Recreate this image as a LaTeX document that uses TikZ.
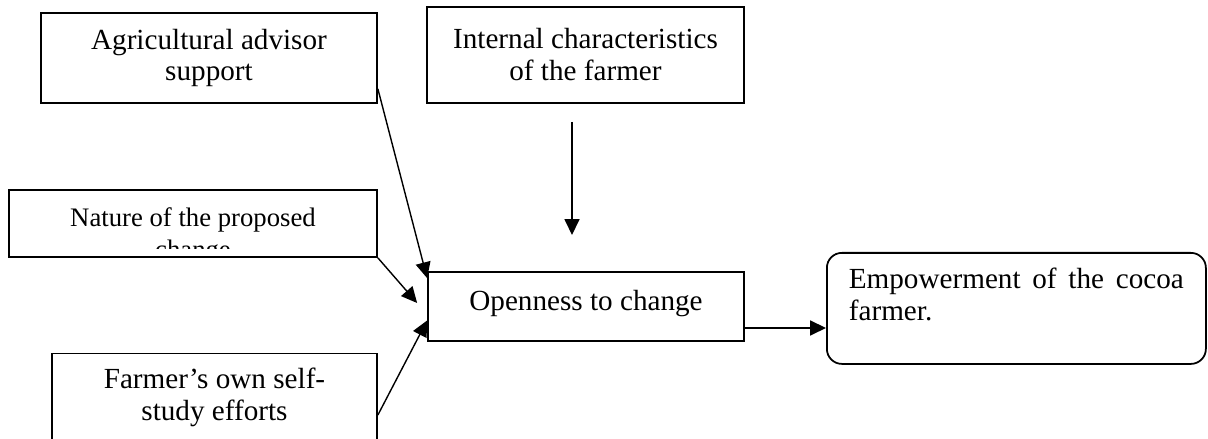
\documentclass[tikz,border=0pt]{standalone}
\usepackage{fontspec}
\setmainfont{Liberation Serif}
\usetikzlibrary{arrows.meta}
\tikzset{
  box/.style={rectangle, draw=black, line width=1pt, align=center, inner sep=2pt,
              font=\fontsize{16.6}{18.2}\selectfont},
  endbox/.style={box, rounded corners=0.3cm, align=justify, text width=6.7cm},
  fl/.style={-{Triangle[length=9pt,width=8.5pt]}, draw=black, line width=0.8pt},
}
\begin{document}
\begin{tikzpicture}
\useasboundingbox (0,0) rectangle (24.16,8.78);

\node[box, minimum width=6.72cm, minimum height=1.8cm] (advisor) at (4.18,7.62) {Agricultural advisor\\support};
\node[box, minimum width=6.34cm, minimum height=1.92cm] (internal) at (11.71,7.68) {Internal characteristics\\of the farmer};
\node[box, minimum width=7.36cm, minimum height=1.34cm] (nature) at (3.86,4.31) {};
\node[box, minimum width=6.32cm, minimum height=1.38cm, text depth=0.25cm] (openness) at (11.72,2.65) {Openness to change};
\node[endbox, minimum width=7.58cm, text height=0.65cm, text depth=1.43cm, anchor=north west] (empower) at (16.52,3.74) {Empowerment of the cocoa \mbox{farmer.}};
\node[box, minimum width=6.5cm, minimum height=1.74cm] (selfstudy) at (4.29,0.84) {Farmer’s own self-\\study efforts};

% second line of this box is cut off
\begin{scope}
\clip (nature.north west) rectangle ([yshift=0.18cm]nature.south east);
\node[anchor=north, inner sep=0pt, align=center, font=\fontsize{15.2}{18.2}\selectfont] (naturetxt) at ([yshift=-0.36cm]nature.north) {Nature of the proposed\\change};
\end{scope}

\coordinate (dropfrom) at (11.44,6.34);
\coordinate (dropto) at (11.44,4.08);

\draw[fl] ([yshift=0.3cm]advisor.south east) -- ([yshift=-0.14cm]openness.north west);
\draw[fl] (nature.south east) -- ([xshift=-0.2cm,yshift=0.07cm]openness.west);
\draw[fl] ([yshift=-0.36cm]selfstudy.east) -- ([yshift=-0.28cm]openness.west);
\draw[fl] (dropfrom) -- (dropto);
\draw[fl] ([yshift=-0.43cm]openness.east) -- ([yshift=-0.43cm]openness.east -| empower.west);
\end{tikzpicture}
\end{document}
